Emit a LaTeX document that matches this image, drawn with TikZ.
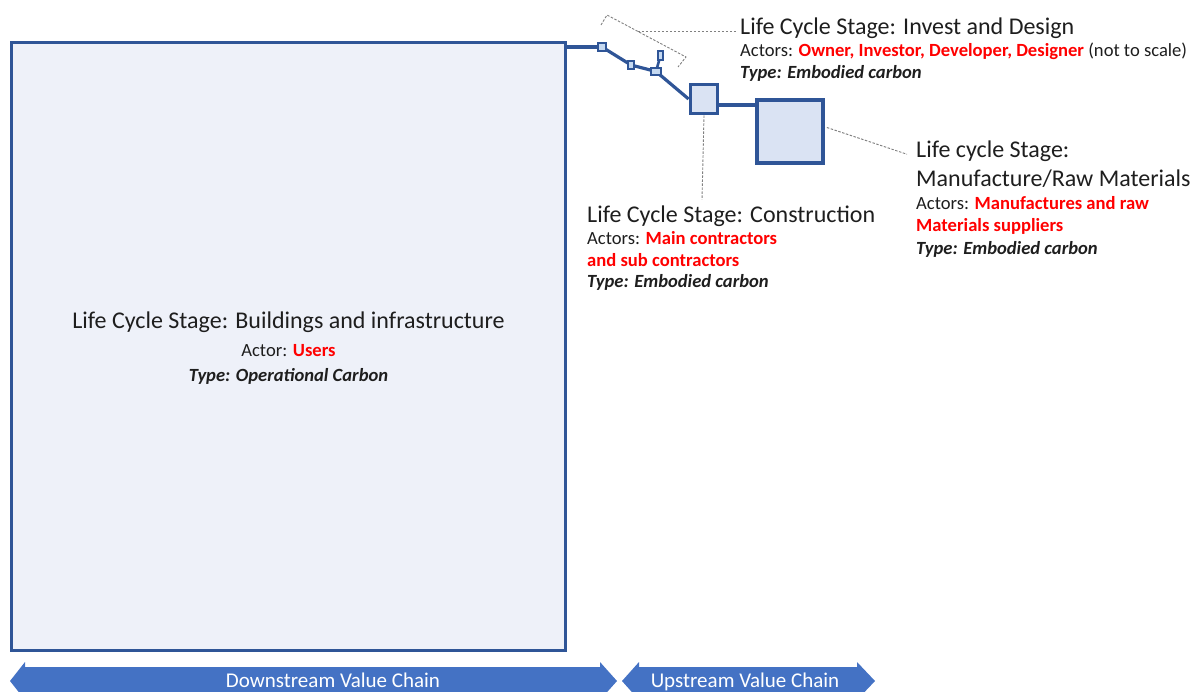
\documentclass[tikz,border=0pt]{standalone}
\usepackage{fontspec}
\setmainfont{Carlito}
\usetikzlibrary{calc,backgrounds}

\definecolor{edgeblue}{HTML}{2F5597}
\definecolor{bigfill}{HTML}{EEF1F9}
\definecolor{boxfill}{HTML}{DAE3F3}
\definecolor{tinyfill}{HTML}{C5D9F1}
\definecolor{chainblue}{HTML}{4472C4}
\definecolor{ink}{HTML}{1E1E1E}
\definecolor{actorred}{HTML}{FF0000}
\definecolor{leadergray}{HTML}{808080}

\newcommand\redbold[1]{{\color{actorred}\bfseries #1}}
\newcommand\typetext[1]{{\bfseries\itshape #1}}

\begin{document}
\begin{tikzpicture}[x=1pt,y=-1pt,
  bigbox/.style={draw=edgeblue, fill=bigfill, line width=3.2pt, inner sep=0},
  stagebox/.style={draw=edgeblue, fill=boxfill, line width=3.8pt, inner sep=0},
  tinybox/.style={draw=edgeblue, fill=tinyfill, line width=1.6pt, inner sep=0},
  link/.style={draw=edgeblue, line width=3.2pt},
  leader/.style={draw=leadergray, line width=0.9pt, dash pattern=on 2.5pt off 1.5pt},
  title/.style={anchor=base west, inner sep=0, text=ink, font=\fontsize{24}{28}\selectfont},
  body/.style={anchor=base west, inner sep=0, text=ink, font=\fontsize{18.6}{22}\selectfont},
  ctitle/.style={title, anchor=base},
  cbody/.style={body, anchor=base},
  chain/.style={fill=chainblue, draw=none},
  chaintext/.style={anchor=base, inner sep=0, text=white, font=\fontsize{21}{25}\selectfont},
]
\useasboundingbox (0,0) rectangle (1197,691);

% stage boxes, from the use phase up to raw materials
\node[bigbox, minimum width=554pt, minimum height=608pt] (use) at (288.5,346.5) {};
\node[tinybox, minimum width=7.5pt, minimum height=7.5pt] (t1) at (602,47) {};
\node[tinybox, minimum width=5.5pt, minimum height=7.5pt] (t2) at (631,65) {};
\node[tinybox, minimum width=10pt, minimum height=7.5pt] (t3) at (656,71.5) {};
\node[tinybox, minimum width=4.5pt, minimum height=8.5pt] (t4) at (660.5,55.5) {};
\node[stagebox, minimum width=27pt, minimum height=29pt] (build) at (704,99) {};
\node[stagebox, minimum width=66pt, minimum height=63pt] (make) at (790,131.5) {};

% chain links behind the boxes
\begin{pgfonlayer}{background}
  \draw[link] (t1.west -| use.east) -- (t1.center);
  \draw[link] (t1.center) -- (t2.center) -- (t3.center) -- (build.west);
  \draw[link, line width=2.6pt] (t3.center) -- (t4.center);
  \draw[link, line width=3.5pt] ($(build.east)+(0,6)$) -- ($(make.west)+(0,-26.5)$);
\end{pgfonlayer}

% labels: use phase
\node[ctitle] (use1) at (288.5,328.3) {Life Cycle Stage: Buildings and infrastructure};
\node[cbody] (use2) at (288.5,356.7) {Actor: \redbold{Users}};
\node[cbody] (use3) at (288.5,381) {\typetext{Type: Operational Carbon}};

% labels: invest and design
\node[title] (inv1) at (740,34) {Life Cycle Stage: Invest and Design};
\node[body] (inv2) at (740,56) {Actors: \redbold{Owner, Investor, Developer, Designer} (not to scale)};
\node[body] (inv3) at (740,78) {\typetext{Type: Embodied carbon}};

% labels: construction
\node[title] (con1) at (587,222.5) {Life Cycle Stage: Construction};
\node[body] (con2) at (587,244) {Actors: \redbold{Main contractors}};
\node[body] (con3) at (587,266) {\redbold{and sub contractors}};
\node[body] (con4) at (587,287.5) {\typetext{Type: Embodied carbon}};

% labels: manufacture
\node[title] (man1) at (916,157.5) {Life cycle Stage:};
\node[title] (man2) at (916,186.5) {Manufacture/Raw Materials};
\node[body] (man3) at (916,209) {Actors: \redbold{Manufactures and raw}};
\node[body] (man4) at (916,231) {\redbold{Materials suppliers}};
\node[body] (man5) at (916,254) {\typetext{Type: Embodied carbon}};

% leaders
\coordinate (b1) at (601,25);
\coordinate (b2) at (607,15);
\coordinate (b3) at (686,57);
\coordinate (b4) at (678,67);
\draw[leader] (b1) -- (b2) -- (b3) -- (b4);
\coordinate (bmid) at ($(b2)!0.39!(b3)$);
\draw[leader] (bmid) -- ($(bmid -| inv1.west)+(-3,0)$);
\coordinate (conend) at ($(build.south |- con1.north)+(-2,-6)$);
\draw[leader] (build.south) -- (conend);
\draw[leader] ($(make.east)+(2,-4)$) -- ($(man1.west)+(-9,3)$);

% value chain arrows
\fill[chain] (10,681) -- (25,662) -- (25,667) -- (600,667) -- (600,662) -- (617,681)
  -- (600,700) -- (600,695) -- (25,695) -- (25,700) -- cycle;
\node[chaintext] (down) at (333,687) {Downstream Value Chain};
\fill[chain] (622,681) -- (639,662) -- (639,667) -- (857,667) -- (857,662) -- (875,681)
  -- (857,700) -- (857,695) -- (639,695) -- (639,700) -- cycle;
\node[chaintext] (up) at (745,687) {Upstream Value Chain};
\end{tikzpicture}
\end{document}
